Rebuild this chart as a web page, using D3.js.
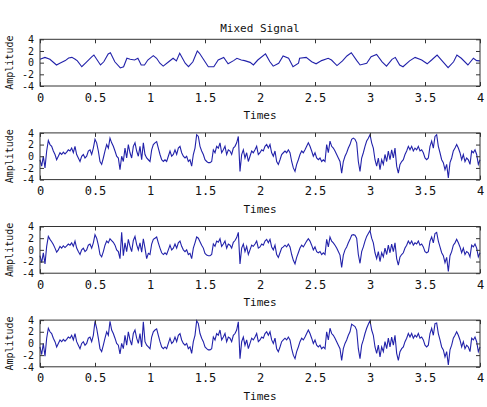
<!DOCTYPE html>
<html>
<head>
<meta charset="utf-8">
<script src="https://cdn.jsdelivr.net/npm/d3@7"></script>
<style>
  body { margin: 0; background: #fff; }
  text { font-family: "DejaVu Sans Mono", monospace; fill: #111; }
</style>
</head>
<body>
<svg id="chart" width="487" height="407"></svg>
<script>
// ---- data ----
const xTicks = [0, 0.5, 1, 1.5, 2, 2.5, 3, 3.5, 4];
const yTicks = [-4, -2, 0, 2, 4];

// mixed signal: [time, amplitude]
const mixedT = [0.00,0.045,0.09,0.15,0.18,0.23,0.26,0.29,0.32,0.34,0.38,0.42,0.47,0.49,0.52,0.55,0.58,0.62,0.64,0.68,
  0.73,0.76,0.79,0.82,0.86,0.89,0.92,0.95,0.98,1.03,1.06,1.09,1.12,1.17,1.21,1.24,1.27,1.32,1.35,1.39,
  1.43,1.45,1.49,1.53,1.58,1.62,1.67,1.71,1.76,1.79,1.83,1.86,1.91,1.94,1.98,2.05,2.09,2.12,2.17,2.21,
  2.26,2.30,2.35,2.36,2.42,2.47,2.51,2.56,2.62,2.65,2.70,2.75,2.79,2.83,2.88,2.91,2.97,3.01,3.06,3.11,
  3.15,3.20,3.23,3.27,3.30,3.36,3.41,3.47,3.52,3.56,3.61,3.65,3.71,3.76,3.79,3.83,3.89,3.94,3.97,4.00];
const mixedV = [0.57,0.9,0.57,-0.4,-0.1,0.35,0.8,0.9,0.57,0.3,-0.7,0.05,1.0,1.3,0.45,-0.4,0.15,1.5,1.7,0.15,
  -0.9,-0.7,0.75,0.57,0.45,0.75,-0.4,-0.4,0.45,1.2,0.75,-0.1,-0.6,0.15,0.75,0.3,1.6,-0.1,-0.7,0.15,
  2.0,1.6,0.45,-0.7,-0.7,0.45,0.9,-0.2,0.35,0.75,0.45,0.35,0.05,-0.4,0.45,1.5,0.15,-0.6,-0.1,1.15,
  0.75,-0.7,-0.1,0.75,0.9,0.15,-0.2,0.35,0.75,0.45,-0.5,0.3,1.15,1.7,0.35,-0.4,-0.1,1.0,1.4,0.15,
  -0.6,0.57,0.9,-0.4,-0.7,0.3,0.9,0.45,-0.2,0.45,1.3,0.45,-0.85,0.15,1.3,0.75,-0.4,0.75,0.35,0.3];

// noisy signals, evenly sampled over 0..4 s (panel 2, 3, 4)
const noisyA = [
  -0.6,-1.7,0,-2.0,0.9,2.7,2.0,1.7,0.9,0.3,-0.6,0,0.6,0.3,0.7,0.4,0.7,1.1,0.9,1.4,
  0.6,1.7,0.3,-0.3,-0.9,0,0.3,-0.3,0,0.9,1.1,0.3,1.4,2.9,2.3,0.9,-0.9,-1.4,-0.3,0.9,
  2.0,1.4,3.1,2.3,1.7,0.9,0,-0.3,-2.3,0,-0.9,1.4,-0.3,2.0,0.6,-0.3,1.7,2.3,0.9,0,
  1.7,-0.6,2.3,0.3,-0.3,-0.6,
  -0.9,1.1,2.0,2.3,2.5,1.4,0.3,-0.6,-0.9,-0.6,-0.9,0,0.9,0,0.3,1.1,0.3,1.4,1.7,0.6,
  0,-0.3,0,-0.9,-0.6,-1.7,0.3,1.4,3.7,3.4,1.7,0.9,0.3,-0.6,-0.9,-1.1,-1.1,-0.9,1.1,0.6,
  1.7,1.4,2.3,0.6,1.1,1.7,0.3,1.1,0.9,0.3,1.4,1.7,2.3,3.4,-2.6,0.3,1.1,-0.3,0.6,-0.9,
  0,0.9,0.6,1.1,1.7,0.3,
  0.6,1.1,0.9,1.7,2.0,1.4,2.0,0.6,0,0.9,-0.9,-1.4,-0.6,0.3,0.6,0.9,0.6,1.1,0.6,-0.9,
  -2.0,-2.6,-1.4,-0.6,0.3,0.9,0.6,1.1,1.7,2.3,1.7,0.9,0,0.6,-0.3,-0.6,-0.3,-0.9,-0.6,-0.9,
  2.0,0.6,2.6,1.7,1.4,0.9,0.3,-0.3,-0.9,-2.9,-0.9,0,0.6,1.4,2.0,2.9,3.1,2.9,2.3,-0.9,
  -2.6,-0.3,0.6,1.7,2.6,3.1,
  3.7,2.3,1.4,-0.6,-1.7,-0.3,-2.3,-0.6,-1.4,0.3,-0.9,0.9,-0.6,1.1,-0.3,1.4,-1.7,-2.9,-1.4,-0.9,
  -0.6,0.3,0.9,1.7,1.1,1.7,0.9,1.4,1.1,1.7,0.9,1.1,0.6,-0.3,-0.6,-0.3,1.7,2.6,1.4,3.4,
  3.7,1.7,0.6,-0.6,-1.1,-2.3,-1.4,-3.7,-1.1,-0.3,0.9,1.4,2.0,1.4,0.6,-0.6,0.3,-0.9,-0.3,-0.6,
  -1.4,0.9,0.6,1.1,0.3,-1.4,-0.6];

const noisyB = [
  -1.0,-2.2,-0.5,-2.4,0.6,2.3,1.8,1.4,0.9,0.3,-0.4,0,0.6,0.3,0.7,0.4,0.7,1.0,0.8,1.2,
  0.6,1.5,0.3,-0.3,-0.8,0,0.3,-0.3,0,0.8,1.0,0.3,1.2,2.6,2.0,0.8,-0.8,-1.2,-0.3,0.8,
  1.5,1.2,1.9,1.6,1.3,0.8,0,-0.3,-1.5,3.0,-1.0,1.2,-0.3,1.8,0.6,-0.3,1.6,2.3,0.9,0,
  1.2,-0.4,1.9,0.3,-1.5,-0.6,
  -0.8,1.0,1.8,2.0,2.2,1.2,0.3,-0.5,-0.8,-0.5,-0.8,0,0.8,0,0.3,1.0,0.3,1.2,1.5,0.6,
  0,-0.3,0,-0.8,-0.6,-1.5,0.3,1.2,2.2,2.0,1.4,0.8,0.3,-0.6,-0.9,-1.0,-1.0,-0.8,1.0,0.6,
  1.5,1.3,1.9,0.6,1.0,1.5,0.3,1.0,0.8,0.3,1.3,1.6,2.1,3.0,-2.4,0.3,1.0,-0.3,0.6,-0.8,
  0,0.8,0.6,1.0,1.5,0.3,
  0.5,1.0,0.8,1.5,1.8,1.2,1.8,0.5,0,0.8,-0.8,-1.3,-0.5,0.3,0.5,0.8,0.5,1.0,0.5,-0.8,
  -1.8,-2.4,-1.3,-0.5,0.3,0.8,0.5,1.0,1.5,1.9,1.5,0.8,0,0.5,-0.3,-0.5,-0.3,-0.8,-0.5,-0.8,
  1.8,0.5,2.2,1.5,1.2,0.8,0.3,-0.3,-0.9,-3.0,-0.9,0,0.5,1.2,1.8,2.5,2.6,2.5,2.0,-0.8,
  -2.3,-0.3,0.5,1.5,2.3,2.8,
  3.3,2.0,1.2,-0.5,-1.5,-0.3,-2.0,-0.5,-1.2,0.3,-0.8,0.8,-0.5,1.0,-0.3,1.2,-1.5,-2.6,-1.2,-0.8,
  -0.5,0.3,0.8,1.5,1.0,1.5,0.8,1.2,1.0,1.5,0.8,1.0,0.5,-0.3,-0.5,-0.3,1.5,2.2,1.2,2.8,
  3.0,1.5,0.5,-0.5,-1.0,-2.2,-1.3,-3.7,-1.0,-0.3,0.8,1.2,1.8,1.2,0.5,-0.5,0.3,-0.8,-0.3,-0.5,
  -1.2,0.8,0.5,1.0,0.3,-1.2,-0.5];

const noisyC = [
  -0.6,-1.9,0,-2.2,0.9,2.6,2.0,1.7,0.9,0.3,-0.6,0,0.6,0.3,0.7,0.4,0.7,1.1,0.9,1.4,
  0.6,1.7,0.3,-0.3,-0.9,0,0.3,-0.3,0,0.9,1.1,0.3,1.4,3.8,2.6,0.9,-0.9,-1.4,-0.3,0.9,
  2.0,1.4,3.8,2.3,1.7,0.9,0,-0.3,-1.8,0,-0.9,1.4,-0.3,2.0,0.6,-0.3,1.7,2.3,0.9,0,
  1.7,-0.6,3.7,0.3,-0.3,-0.6,
  -0.9,1.1,2.0,2.3,2.5,1.4,0.3,-0.6,-0.9,-0.6,-0.9,0,0.9,0,0.3,1.1,0.3,1.4,1.7,0.6,
  0,-0.3,0,-0.9,-0.6,-1.7,0.3,1.4,3.9,3.4,1.7,0.9,0.3,-0.6,-0.9,-1.1,-1.1,-0.9,1.1,0.6,
  1.7,1.4,2.3,0.6,1.1,1.7,0.3,1.1,0.9,0.3,1.4,1.7,2.3,3.7,-2.6,0.3,1.1,-0.3,0.6,-0.9,
  0,0.9,0.6,1.1,1.7,0.3,
  0.6,1.1,0.9,1.7,2.0,1.4,2.0,0.6,0,0.9,-0.9,-1.4,-0.6,0.3,0.6,0.9,0.6,1.1,0.6,-0.9,
  -2.0,-2.6,-1.4,-0.6,0.3,0.9,0.6,1.1,1.7,2.3,1.7,0.9,0,0.6,-0.3,-0.6,-0.3,-0.9,-0.6,-0.9,
  2.0,0.6,2.6,1.7,1.4,0.9,0.3,-0.3,-0.9,-2.9,-0.9,0,0.6,1.4,2.0,3.3,3.1,2.9,2.3,-0.9,
  -2.6,-0.3,0.6,1.7,2.6,3.3,
  3.9,2.3,1.4,-0.6,-1.7,-0.3,-2.3,-0.6,-1.4,0.3,-0.9,0.9,-0.6,1.1,-0.3,1.4,-1.7,-2.9,-1.4,-0.9,
  -0.6,0.3,0.9,1.7,1.1,1.7,0.9,1.4,1.1,1.7,0.9,1.1,0.6,-0.3,-0.6,-0.3,1.7,2.6,1.4,3.4,
  3.5,1.7,0.6,-0.6,-1.1,-2.3,-1.4,-3.7,-1.1,-0.3,0.9,1.4,2.0,1.4,0.6,-0.6,0.3,-0.9,-0.3,-0.6,
  -1.4,0.9,0.6,1.1,0.3,-1.4,-0.6];

const panels = [
  { t: mixedT, v: mixedV },
  { t: null, v: noisyA },
  { t: null, v: noisyB },
  { t: null, v: noisyC }
];

// ---- layout ----
const svg = d3.select("#chart");
const left = 40, right = 480;
const firstTop = 39.3, step = 93.6, plotH = 46.7;
const LINE = "#2222aa";

// faint logo remnant cropped at the top edge
const grad = svg.append("defs").append("linearGradient").attr("id", "fade");
grad.append("stop").attr("offset", "0%").attr("stop-color", "#c8d0ee");
grad.append("stop").attr("offset", "100%").attr("stop-color", "#8090d0");
svg.append("line")
  .attr("x1", 212).attr("x2", 283).attr("y1", 3.5).attr("y2", 3.5)
  .attr("stroke", "url(#fade)").attr("stroke-width", 6)
  .attr("stroke-dasharray", "5 2").attr("opacity", 0.8);

svg.append("text")
  .attr("x", (left + right) / 2).attr("y", 31.5)
  .attr("text-anchor", "middle").style("font-size", "11px")
  .text("Mixed Signal");

const x = d3.scaleLinear().domain([0, 4]).range([left, right]);

panels.forEach((p, i) => {
  const top = firstTop + i * step;
  const y = d3.scaleLinear().domain([-4, 4]).range([top + plotH, top]);
  const g = svg.append("g");

  const times = p.t || p.v.map((d, k) => k * 4 / (p.v.length - 1));
  const pts = p.v.map((d, k) => [times[k], d]);

  g.append("path")
    .datum(pts)
    .attr("fill", "none")
    .attr("stroke", LINE)
    .attr("stroke-width", 1.1)
    .attr("d", d3.line().x(d => x(d[0])).y(d => y(d[1])));

  // box
  g.append("rect")
    .attr("x", left).attr("y", top)
    .attr("width", right - left).attr("height", plotH)
    .attr("fill", "none").attr("stroke", "#333").attr("stroke-width", 1);

  // axes (ticks pointing inward)
  const bottomAxis = g.append("g")
    .attr("transform", `translate(0,${top + plotH})`)
    .call(d3.axisBottom(x).tickValues(xTicks).tickFormat(String)
      .tickSize(-4).tickSizeOuter(0).tickPadding(7));
  bottomAxis.selectAll("text").style("font-size", "12px")
    .style("font-family", "DejaVu Sans Mono, monospace");

  g.append("g")
    .attr("transform", `translate(0,${top})`)
    .call(d3.axisTop(x).tickValues(xTicks).tickFormat("")
      .tickSize(-4).tickSizeOuter(0));

  const leftAxis = g.append("g")
    .attr("transform", `translate(${left},0)`)
    .call(d3.axisLeft(y).tickValues(yTicks).tickFormat(String)
      .tickSize(-4).tickSizeOuter(0).tickPadding(6));
  leftAxis.selectAll("text").style("font-size", "10px")
    .style("font-family", "DejaVu Sans Mono, monospace");

  g.append("g")
    .attr("transform", `translate(${right},0)`)
    .call(d3.axisRight(y).tickValues(yTicks).tickFormat("")
      .tickSize(-4).tickSizeOuter(0));

  g.selectAll(".domain").remove();
  g.selectAll(".tick line").attr("stroke", "#333");

  // axis titles
  g.append("text")
    .attr("x", (left + right) / 2).attr("y", top + plotH + 33)
    .attr("text-anchor", "middle").style("font-size", "11px")
    .text("Times");

  g.append("text")
    .attr("transform", `translate(13,${top + plotH / 2}) rotate(-90)`)
    .attr("text-anchor", "middle").style("font-size", "10px")
    .text("Amplitude");
});
</script>
</body>
</html>
